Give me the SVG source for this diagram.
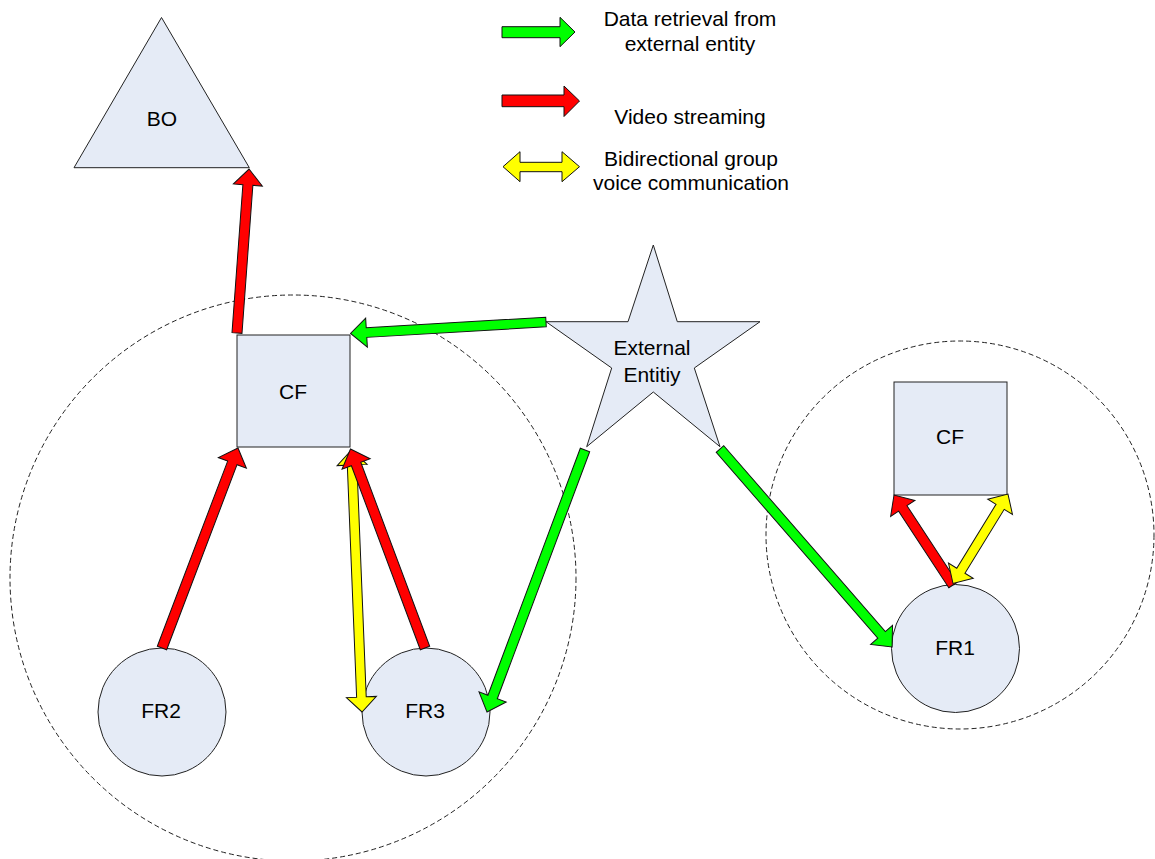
<svg xmlns="http://www.w3.org/2000/svg" width="1155" height="859" viewBox="0 0 1155 859">
<style>
.node{fill:#E5EBF6;stroke:#222;stroke-width:1}
.zone{fill:none;stroke:#222;stroke-width:1;stroke-dasharray:5,3}
.lbl{font-family:"Liberation Sans",Arial,sans-serif;font-size:21px;fill:#000;text-anchor:middle}
.g{fill:#00FF00;stroke:#111;stroke-width:1;stroke-linejoin:miter}
.r{fill:#FF0000;stroke:#111;stroke-width:1;stroke-linejoin:miter}
.y{fill:#FFFF00;stroke:#111;stroke-width:1;stroke-linejoin:miter}
</style>
<rect width="1155" height="859" fill="#FFFFFF"/>
<g id="zones">
  <circle id="zone-left" class="zone" cx="293" cy="578" r="283"/>
  <circle id="zone-right" class="zone" cx="960" cy="535" r="194"/>
</g>
<g id="legend">
  <path class="g" d="M502,26.7 L560,26.7 L560,17.3 L575,32 L560,46.7 L560,37.7 L502,37.7 Z"/>
  <path class="r" d="M502,95 L564,95 L564,86 L579.5,101 L564,116.5 L564,106.7 L502,106.7 Z"/>
  <path class="y" d="M503,166.7 L520,151.7 L520,162.3 L562,162.3 L562,151.7 L579.5,166.7 L562,181.7 L562,171.7 L520,171.7 L520,181.7 Z"/>
  <text class="lbl" x="690" y="26">Data retrieval from</text>
  <text class="lbl" x="690" y="50.5">external entity</text>
  <text class="lbl" x="690" y="124">Video streaming</text>
  <text class="lbl" x="691" y="165.5">Bidirectional group</text>
  <text class="lbl" x="691" y="189.5">voice communication</text>
</g>
<g id="BO">
  <polygon class="node" points="161.5,17.5 74,167.7 249.3,167.7"/>
  <text class="lbl" x="162" y="125.7">BO</text>
</g>
<g id="CF-left">
  <rect class="node" x="237" y="335" width="113" height="112"/>
  <text class="lbl" x="293" y="398.5">CF</text>
</g>
<g id="CF-right">
  <rect class="node" x="894" y="382" width="113" height="113"/>
  <text class="lbl" x="950" y="444">CF</text>
</g>
<g id="ExternalEntity">
  <polygon class="node" points="653.3,245 677.3,321.7 760,321.7 694.3,368 720,446.7 653.3,392 586.7,446.7 611.7,368 546,321.7 628,321.7"/>
  <text class="lbl" x="652" y="355">External</text>
  <text class="lbl" x="652" y="381.7">Entitiy</text>
</g>
<g id="FR1">
  <circle class="node" cx="955.5" cy="648.5" r="64"/>
  <text class="lbl" x="955" y="655">FR1</text>
</g>
<g id="FR2">
  <circle class="node" cx="162" cy="712" r="64"/>
  <text class="lbl" x="161" y="718.3">FR2</text>
</g>
<g id="FR3">
  <circle class="node" cx="426" cy="712" r="64"/>
  <text class="lbl" x="425" y="718.3">FR3</text>
</g>
<g id="connectors">
  <path class="y" transform="translate(351.5,450) rotate(87.7)" d="M0,0 L15,-15 L15,-4.8 L247.2,-4.8 L247.2,-15 L262.2,0 L247.2,15 L247.2,4.8 L15,4.8 L15,15 Z"/>
  <path class="r" transform="translate(237,333) rotate(-85.8)" d="M0,-5 L148.4,-5 L148.4,-14.5 L164.4,0 L148.4,14.5 L148.4,5 L0,5 Z"/>
  <path class="g" transform="translate(546,322) rotate(176.63)" d="M0,-4.8 L179.8,-4.8 L179.8,-14.5 L195.8,0 L179.8,14.5 L179.8,4.8 L0,4.8 Z"/>
  <path class="r" transform="translate(162,648) rotate(-69.19)" d="M0,-5 L198,-5 L198,-15 L213.95,0 L198,15 L198,5 L0,5 Z"/>
  <path class="r" transform="translate(425,648) rotate(-110.53)" d="M0,-5 L196.5,-5 L196.5,-15 L212.5,0 L196.5,15 L196.5,5 L0,5 Z"/>
  <path class="g" transform="translate(585,450) rotate(110.51)" d="M0,-5 L263.7,-5 L263.7,-14.5 L279.7,0 L263.7,14.5 L263.7,5 L0,5 Z"/>
  <path class="g" transform="translate(720,449) rotate(49)" d="M0,-5 L246.3,-5 L246.3,-14.5 L262.3,0 L246.3,14.5 L246.3,5 L0,5 Z"/>
  <path class="r" transform="translate(953,585) rotate(-123.25)" d="M0,-5 L91.6,-5 L91.6,-14.5 L107.6,0 L91.6,14.5 L91.6,5 L0,5 Z"/>
  <path class="y" transform="translate(953,583.5) rotate(-58.43)" d="M0,0 L15,-14.5 L15,-4.8 L90,-4.8 L90,-14.5 L105,0 L90,14.5 L90,4.8 L15,4.8 L15,14.5 Z"/>
</g>
</svg>
